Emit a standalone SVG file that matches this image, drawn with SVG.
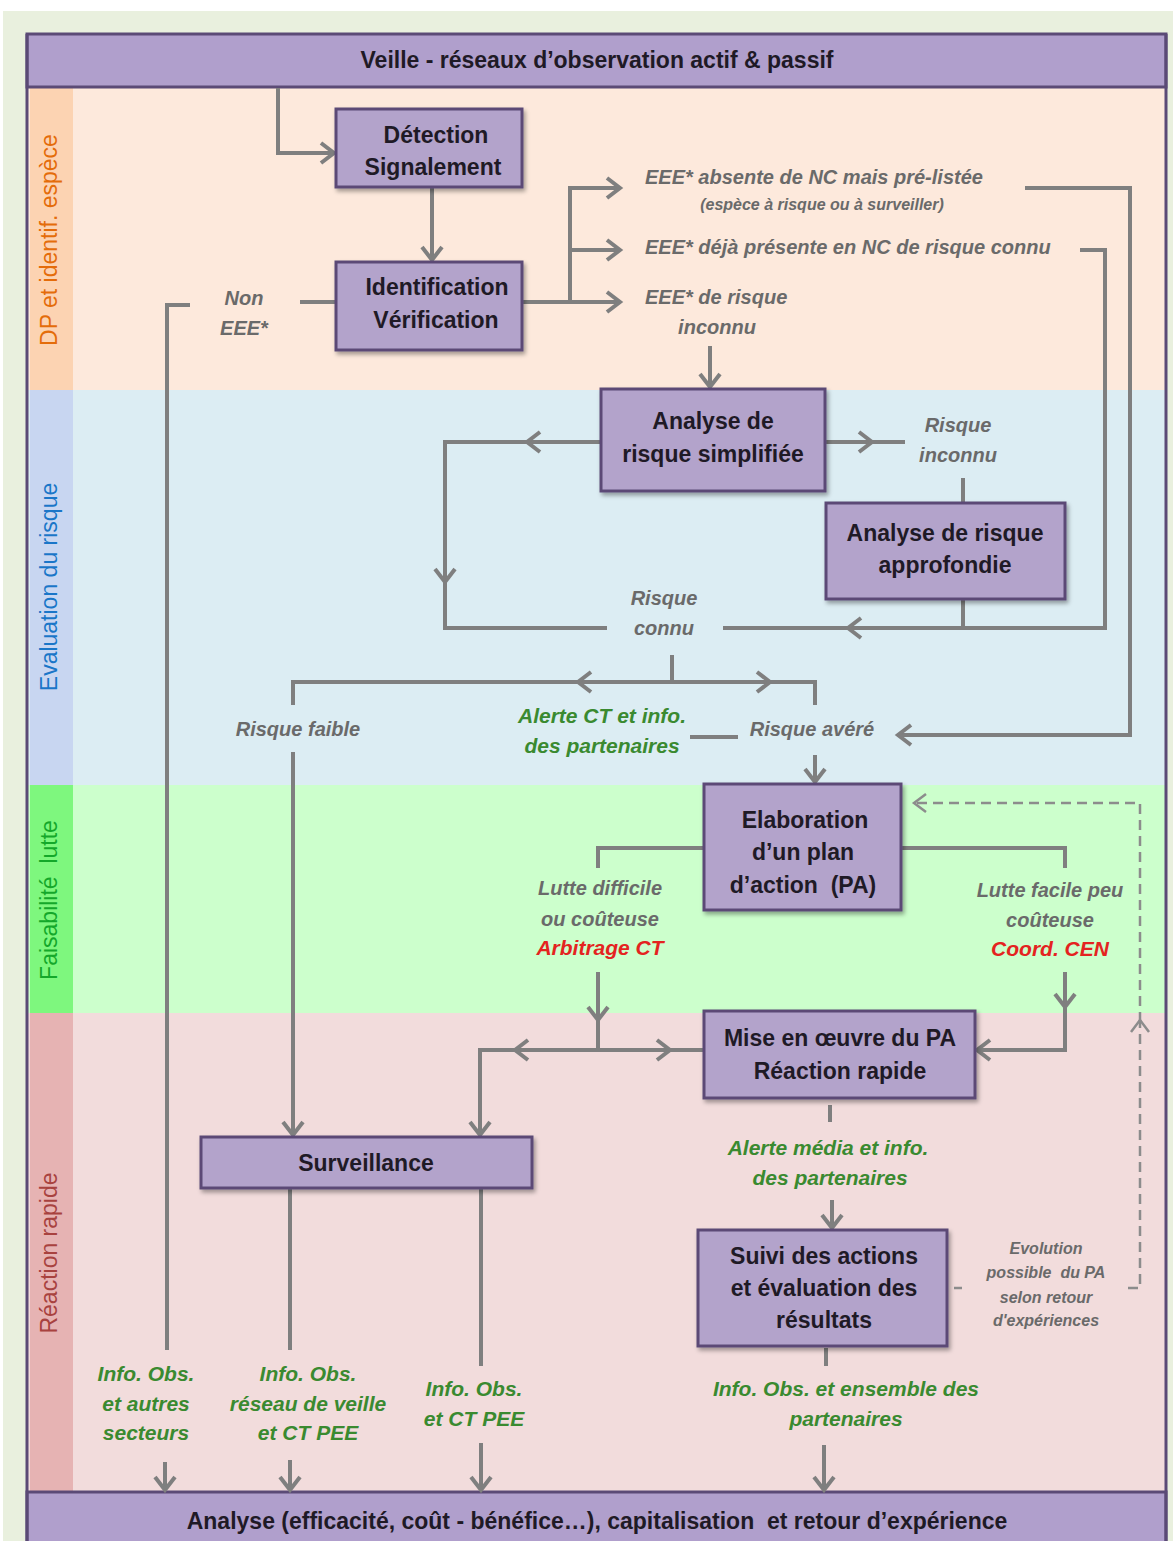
<svg xmlns="http://www.w3.org/2000/svg" width="1173" height="1541" viewBox="0 0 1173 1541">
<style>
.node rect{fill:#b3a3cb;stroke:#5b4a76;stroke-width:3;filter:url(#sh)}
.nt{font-family:"Liberation Sans",Arial,sans-serif;font-weight:bold;font-size:23px;fill:#1f1a26;text-anchor:middle}
.hd{font-family:"Liberation Sans",Arial,sans-serif;font-weight:bold;font-size:23px;fill:#1f1a26;text-anchor:middle}
.lbl{font-family:"Liberation Sans",Arial,sans-serif;font-style:italic;font-weight:bold;font-size:20px;fill:#6a6a6a;text-anchor:middle}
.lbls{font-family:"Liberation Sans",Arial,sans-serif;font-style:italic;font-weight:bold;font-size:16px;fill:#6a6a6a;text-anchor:middle}
.grn{font-family:"Liberation Sans",Arial,sans-serif;font-style:italic;font-weight:bold;font-size:21px;fill:#3a8a30;text-anchor:middle}
.red{font-family:"Liberation Sans",Arial,sans-serif;font-style:italic;font-weight:bold;font-size:21px;fill:#e42320;text-anchor:middle}
.side{font-family:"Liberation Sans",Arial,sans-serif;font-size:23px;text-anchor:middle}
.c path{fill:none;stroke:#7f7f7f;stroke-width:4}
.c path.d{stroke:#8c8c8c;stroke-width:2.5;stroke-dasharray:10 6}
</style>
<defs>
<filter id="sh" x="-10%" y="-10%" width="125%" height="130%">
<feDropShadow dx="2" dy="3" stdDeviation="2" flood-color="#000" flood-opacity="0.35"/>
</filter>
<marker id="a" markerUnits="userSpaceOnUse" markerWidth="20" markerHeight="26" viewBox="0 0 20 26" refX="16" refY="13" orient="auto">
<path d="M3,3 L16,13 L3,23" fill="none" stroke="#7f7f7f" stroke-width="4"/>
</marker>
<marker id="ad" markerUnits="userSpaceOnUse" markerWidth="20" markerHeight="26" viewBox="0 0 20 26" refX="16" refY="13" orient="auto">
<path d="M4,4 L16,13 L4,22" fill="none" stroke="#8c8c8c" stroke-width="2.5"/>
</marker>
</defs>
<rect x="0" y="0" width="1173" height="1541" fill="#ffffff"/>
<rect x="3" y="11" width="1170" height="1530" fill="#e9f0de"/>
<!-- bands -->
<rect x="27" y="87" width="1139" height="303" fill="#fde9dc"/>
<rect x="27" y="390" width="1139" height="395" fill="#dcedf3"/>
<rect x="27" y="785" width="1139" height="228" fill="#ccffcc"/>
<rect x="27" y="1013" width="1139" height="479" fill="#f2dcdc"/>
<rect x="30" y="87" width="43" height="303" fill="#fcd3b2"/>
<rect x="30" y="390" width="43" height="395" fill="#c8d6f1"/>
<rect x="30" y="785" width="43" height="228" fill="#7ef77e"/>
<rect x="30" y="1013" width="43" height="479" fill="#e6b3b3"/>
<text class="side" transform="translate(57,240) rotate(-90)" fill="#e46c0a">DP et identif. espèce</text>
<text class="side" transform="translate(57,587) rotate(-90)" fill="#1a76c8">Evaluation du risque</text>
<text class="side" transform="translate(57,900) rotate(-90)" fill="#14a82a">Faisabilité&#160; lutte</text>
<text class="side" transform="translate(57,1253) rotate(-90)" fill="#a8423f">Réaction rapide</text>
<!-- header / footer -->
<g id="veille">
<rect x="27" y="34" width="1139" height="53" fill="#b09fcc" stroke="#5b4a76" stroke-width="3"/>
<text class="hd" x="597" y="68">Veille - réseaux d’observation actif &amp; passif</text>
</g>
<g id="analyse-finale">
<rect x="27" y="1492" width="1139" height="52" fill="#b09fcc" stroke="#5b4a76" stroke-width="3"/>
<text class="hd" x="597" y="1529">Analyse (efficacité, coût - bénéfice…), capitalisation&#160; et retour d’expérience</text>
</g>
<line x1="27" y1="34" x2="27" y2="1541" stroke="#5b4a76" stroke-width="3"/>
<line x1="1166" y1="34" x2="1166" y2="1541" stroke="#5b4a76" stroke-width="3"/>
<!-- connectors -->
<g class="c">
<path d="M278,88 V153 H334" marker-end="url(#a)"/>
<path d="M432,187 V260" marker-end="url(#a)"/>
<path d="M522,302 H620" marker-end="url(#a)"/>
<path d="M570,302 V188 H620" marker-end="url(#a)"/>
<path d="M570,250 H620" marker-end="url(#a)"/>
<path d="M1025,188 H1130 V735 H898" marker-end="url(#a)"/>
<path d="M1080,250 H1105 V628 H848" marker-end="url(#a)"/>
<path d="M850,628 H723"/>
<path d="M710,346 V387" marker-end="url(#a)"/>
<path d="M601,442 H527" marker-end="url(#a)"/>
<path d="M530,442 H445 V582" marker-end="url(#a)"/>
<path d="M445,580 V628 H607"/>
<path d="M825,442 H872" marker-end="url(#a)"/>
<path d="M870,442 H905"/>
<path d="M963,478 V503"/>
<path d="M963,599 V628"/>
<path d="M672,655 V682"/>
<path d="M672,682 H578" marker-end="url(#a)"/>
<path d="M580,682 H293 V705"/>
<path d="M672,682 H770" marker-end="url(#a)"/>
<path d="M768,682 H815 V705"/>
<path d="M293,752 V1135" marker-end="url(#a)"/>
<path d="M690,737 H738"/>
<path d="M815,755 V782" marker-end="url(#a)"/>
<path d="M704,848 H598 V868"/>
<path d="M901,848 H1065 V868"/>
<path d="M598,972 V1020" marker-end="url(#a)"/>
<path d="M598,1018 V1050"/>
<path d="M598,1050 H515" marker-end="url(#a)"/>
<path d="M517,1050 H480 V1135" marker-end="url(#a)"/>
<path d="M598,1050 H670" marker-end="url(#a)"/>
<path d="M668,1050 H704"/>
<path d="M1065,972 V1007" marker-end="url(#a)"/>
<path d="M1065,1005 V1050 H977" marker-end="url(#a)"/>
<path d="M830,1105 V1122"/>
<path d="M832,1200 V1228" marker-end="url(#a)"/>
<path d="M826,1348 V1366"/>
<path d="M824,1445 V1490" marker-end="url(#a)"/>
<path d="M336,302 H300"/>
<path d="M190,305 H167 V1350"/>
<path d="M165,1462 V1490" marker-end="url(#a)"/>
<path d="M290,1188 V1350"/>
<path d="M290,1460 V1490" marker-end="url(#a)"/>
<path d="M481,1188 V1366"/>
<path d="M481,1443 V1490" marker-end="url(#a)"/>
<path d="M954,1288 H962" style="stroke-width:2.5;stroke:#8c8c8c"/>
<path class="d" d="M1128,1288 H1140 V1020" marker-end="url(#ad)"/>
<path class="d" d="M1140,1022 V803 H914" marker-end="url(#ad)"/>
</g>
<!-- nodes -->
<g id="detection" class="node">
<rect x="336" y="109" width="186" height="78"/>
<text class="nt" x="436" y="143">Détection</text>
<text class="nt" x="433" y="175">Signalement</text>
</g>
<g id="identification" class="node">
<rect x="336" y="262" width="186" height="88"/>
<text class="nt" x="437" y="295">Identification</text>
<text class="nt" x="436" y="328">Vérification</text>
</g>
<g id="analyse-simplifiee" class="node">
<rect x="601" y="389" width="224" height="102"/>
<text class="nt" x="713" y="429">Analyse de</text>
<text class="nt" x="713" y="462">risque simplifiée</text>
</g>
<g id="analyse-approfondie" class="node">
<rect x="826" y="503" width="239" height="96"/>
<text class="nt" x="945" y="541">Analyse de risque</text>
<text class="nt" x="945" y="573">approfondie</text>
</g>
<g id="elaboration" class="node">
<rect x="704" y="784" width="197" height="126"/>
<text class="nt" x="805" y="828">Elaboration</text>
<text class="nt" x="803" y="860">d’un plan</text>
<text class="nt" x="803" y="893">d’action&#160; (PA)</text>
</g>
<g id="mise-en-oeuvre" class="node">
<rect x="704" y="1011" width="271" height="87"/>
<text class="nt" x="840" y="1046">Mise en œuvre du PA</text>
<text class="nt" x="840" y="1079">Réaction rapide</text>
</g>
<g id="surveillance" class="node">
<rect x="201" y="1137" width="331" height="51"/>
<text class="nt" x="366" y="1171">Surveillance</text>
</g>
<g id="suivi" class="node">
<rect x="698" y="1230" width="249" height="116"/>
<text class="nt" x="824" y="1264">Suivi des actions</text>
<text class="nt" x="824" y="1296">et évaluation des</text>
<text class="nt" x="824" y="1328">résultats</text>
</g>
<!-- labels -->
<g id="labels">
<text class="lbl" x="244" y="305">Non</text>
<text class="lbl" x="244" y="335">EEE*</text>
<text class="lbl" x="645" y="184" style="text-anchor:start">EEE* absente de NC mais pré-listée</text>
<text class="lbls" x="822" y="210">(espèce à risque ou à surveiller)</text>
<text class="lbl" x="645" y="254" style="text-anchor:start">EEE* déjà présente en NC de risque connu</text>
<text class="lbl" x="645" y="304" style="text-anchor:start">EEE* de risque</text>
<text class="lbl" x="717" y="334">inconnu</text>
<text class="lbl" x="958" y="432">Risque</text>
<text class="lbl" x="958" y="462">inconnu</text>
<text class="lbl" x="664" y="605">Risque</text>
<text class="lbl" x="664" y="635">connu</text>
<text class="lbl" x="298" y="736">Risque faible</text>
<text class="lbl" x="812" y="736">Risque avéré</text>
<text class="grn" x="602" y="723">Alerte CT et info.</text>
<text class="grn" x="602" y="753">des partenaires</text>
<text class="lbl" x="600" y="895">Lutte difficile</text>
<text class="lbl" x="600" y="926">ou coûteuse</text>
<text class="red" x="600" y="955">Arbitrage CT</text>
<text class="lbl" x="1050" y="897">Lutte facile peu</text>
<text class="lbl" x="1050" y="927">coûteuse</text>
<text class="red" x="1050" y="956">Coord. CEN</text>
<text class="grn" x="828" y="1155">Alerte média et info.</text>
<text class="grn" x="830" y="1185">des partenaires</text>
<text class="lbls" x="1046" y="1254">Evolution</text>
<text class="lbls" x="1046" y="1278">possible&#160; du PA</text>
<text class="lbls" x="1046" y="1303">selon retour</text>
<text class="lbls" x="1046" y="1326">d'expériences</text>
<text class="grn" x="846" y="1396">Info. Obs. et ensemble des</text>
<text class="grn" x="846" y="1426">partenaires</text>
<text class="grn" x="146" y="1381">Info. Obs.</text>
<text class="grn" x="146" y="1411">et autres</text>
<text class="grn" x="146" y="1440">secteurs</text>
<text class="grn" x="308" y="1381">Info. Obs.</text>
<text class="grn" x="308" y="1411">réseau de veille</text>
<text class="grn" x="308" y="1440">et CT PEE</text>
<text class="grn" x="474" y="1396">Info. Obs.</text>
<text class="grn" x="474" y="1426">et CT PEE</text>
</g>
</svg>
